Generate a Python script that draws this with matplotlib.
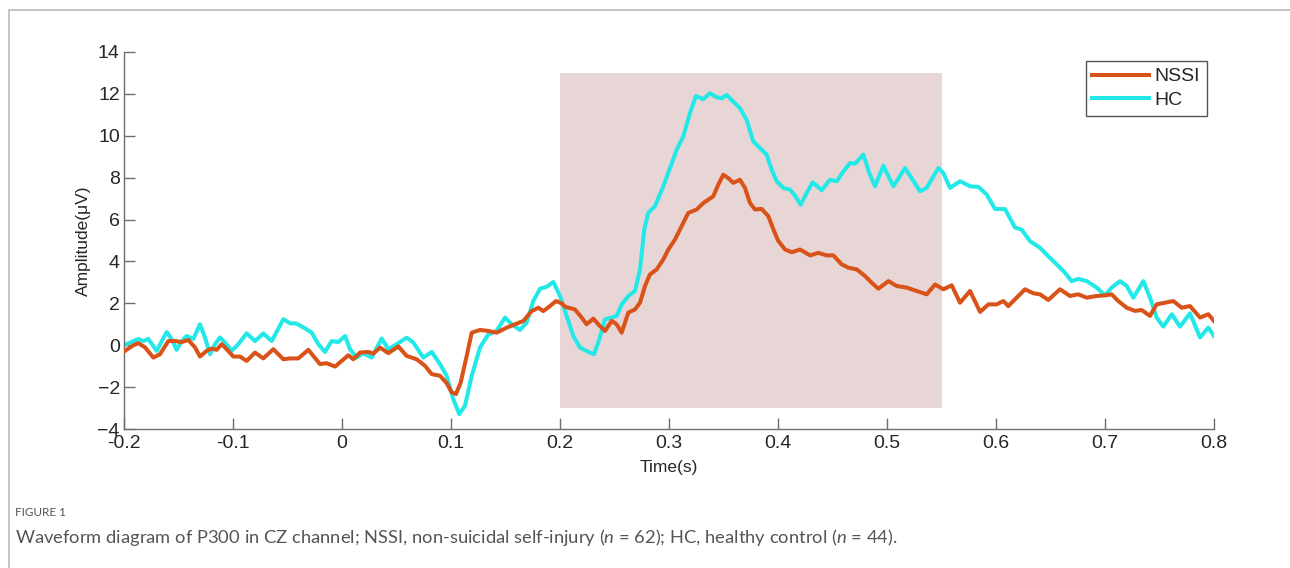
import matplotlib.pyplot as plt
from matplotlib.lines import Line2D

plt.rcParams['font.family'] = ['Liberation Sans', 'DejaVu Sans']
plt.rcParams['mathtext.fontset'] = 'custom'
plt.rcParams['mathtext.it'] = 'Lato:italic'
plt.rcParams['mathtext.rm'] = 'Lato'

# P300 waveform at CZ (time in s, amplitude in uV)
nssi_t = [-0.2, -0.1914, -0.1869, -0.1807, -0.1731, -0.1670, -0.1593, -0.1532, -0.1471, -0.1410,
          -0.1349, -0.1303, -0.1242, -0.1196, -0.1150, -0.1104, -0.1058, -0.0997, -0.0936, -0.0875,
          -0.0798, -0.0722, -0.0630, -0.0538, -0.0477, -0.0401, -0.0309, -0.0202, -0.0141, -0.0064,
          -0.0003, 0.0058, 0.0104, 0.0165, 0.0242, 0.0288, 0.0349, 0.0425, 0.0517, 0.0593,
          0.0685, 0.0761, 0.0823, 0.0899, 0.0960, 0.1006, 0.1046, 0.1089, 0.1144, 0.1190,
          0.1266, 0.1343, 0.1419, 0.1511, 0.1587, 0.1664, 0.1740, 0.1801, 0.1847, 0.1908,
          0.1963, 0.2015, 0.2046, 0.2137, 0.2199, 0.2244, 0.2306, 0.2351, 0.2413, 0.2474,
          0.2520, 0.2566, 0.2627, 0.2688, 0.2734, 0.2780, 0.2825, 0.2887, 0.2948, 0.2994,
          0.3055, 0.3116, 0.3177, 0.3254, 0.3315, 0.3361, 0.3406, 0.3452, 0.3498, 0.3544,
          0.3590, 0.3651, 0.3697, 0.3743, 0.3789, 0.3850, 0.3911, 0.3960, 0.4000, 0.4065,
          0.4126, 0.4202, 0.4294, 0.4370, 0.4447, 0.4508, 0.4584, 0.4646, 0.4722, 0.4799,
          0.4860, 0.4921, 0.5013, 0.5089, 0.5181, 0.5273, 0.5364, 0.5441, 0.5517, 0.5594,
          0.5670, 0.5762, 0.5854, 0.5930, 0.6006, 0.6067, 0.6113, 0.6190, 0.6266, 0.6343,
          0.6404, 0.6480, 0.6587, 0.6679, 0.6755, 0.6832, 0.6924, 0.7000, 0.7061, 0.7122,
          0.7199, 0.7275, 0.7336, 0.7413, 0.7474, 0.7550, 0.7627, 0.7703, 0.7780, 0.7872,
          0.7948, 0.8]
nssi_v = [-0.3, 0.0, 0.1, -0.1, -0.59, -0.43, 0.2, 0.2, 0.15, 0.25,
          -0.1, -0.54, -0.27, -0.16, -0.22, 0.05, -0.19, -0.54, -0.54, -0.75,
          -0.35, -0.63, -0.19, -0.67, -0.63, -0.63, -0.22, -0.9, -0.86, -1.02,
          -0.75, -0.48, -0.67, -0.35, -0.32, -0.4, -0.11, -0.38, -0.06, -0.51,
          -0.67, -0.98, -1.38, -1.46, -1.81, -2.25, -2.33, -1.78, -0.51, 0.60,
          0.73, 0.68, 0.60, 0.84, 1.0, 1.16, 1.63, 1.79, 1.63, 1.87,
          2.11, 2.0, 1.84, 1.71, 1.32, 1.0, 1.27, 1.0, 0.68, 1.16,
          1.0, 0.6, 1.56, 1.71, 2.03, 2.83, 3.38, 3.62, 4.1, 4.57,
          5.05, 5.68, 6.32, 6.48, 6.79, 6.95, 7.11, 7.67, 8.14, 7.98,
          7.75, 7.90, 7.51, 6.79, 6.48, 6.51, 6.16, 5.5, 5.0, 4.57,
          4.44, 4.57, 4.29, 4.41, 4.29, 4.29, 3.86, 3.7, 3.62, 3.3,
          2.98, 2.7, 3.06, 2.83, 2.75, 2.59, 2.43, 2.9, 2.67, 2.86,
          2.03, 2.59, 1.59, 1.95, 1.95, 2.11, 1.87, 2.27, 2.67, 2.48,
          2.43, 2.16, 2.67, 2.35, 2.43, 2.27, 2.35, 2.38, 2.43, 2.11,
          1.79, 1.64, 1.68, 1.4, 1.95, 2.03, 2.11, 1.79, 1.87, 1.32,
          1.48, 1.16]

hc_t = [-0.2, -0.1914, -0.1869, -0.1823, -0.1777, -0.1700, -0.1609, -0.1563, -0.1517, -0.1471,
        -0.1425, -0.1364, -0.1303, -0.1257, -0.1211, -0.1165, -0.1119, -0.1073, -0.1012, -0.0951,
        -0.0875, -0.0798, -0.0722, -0.0645, -0.0538, -0.0477, -0.0416, -0.0324, -0.0278, -0.0217,
        -0.0156, -0.0095, -0.0034, 0.0028, 0.0073, 0.0134, 0.0196, 0.0272, 0.0364, 0.0425,
        0.0502, 0.0593, 0.0654, 0.0746, 0.0823, 0.0899, 0.0960, 0.1021, 0.1076, 0.1128,
        0.1190, 0.1266, 0.1343, 0.1419, 0.1495, 0.1557, 0.1633, 0.1694, 0.1755, 0.1817,
        0.1878, 0.1939, 0.2000, 0.2061, 0.2122, 0.2183, 0.2260, 0.2312, 0.2361, 0.2413,
        0.2474, 0.2520, 0.2566, 0.2627, 0.2688, 0.2734, 0.2773, 0.2810, 0.2871, 0.2948,
        0.3009, 0.3070, 0.3131, 0.3192, 0.3247, 0.3315, 0.3376, 0.3437, 0.3483, 0.3529,
        0.3590, 0.3651, 0.3712, 0.3773, 0.3835, 0.3896, 0.3942, 0.3988, 0.4049, 0.4110,
        0.4156, 0.4208, 0.4263, 0.4318, 0.4401, 0.4477, 0.4539, 0.4600, 0.4661, 0.4707,
        0.4783, 0.4838, 0.4890, 0.4967, 0.5058, 0.5166, 0.5303, 0.5364, 0.5471, 0.5517,
        0.5578, 0.5670, 0.5762, 0.5838, 0.5915, 0.5991, 0.6037, 0.6083, 0.6174, 0.6235,
        0.6312, 0.6404, 0.6480, 0.6557, 0.6633, 0.6694, 0.6755, 0.6832, 0.6924, 0.7000,
        0.7061, 0.7138, 0.7199, 0.7260, 0.7352, 0.7413, 0.7474, 0.7535, 0.7612, 0.7688,
        0.7780, 0.7872, 0.7948, 0.8]
hc_v = [0.0, 0.2, 0.3, 0.2, 0.3, -0.27, 0.63, 0.3, -0.22, 0.2,
        0.44, 0.3, 1.0, 0.37, -0.43, 0.05, 0.37, 0.13, -0.27, 0.05,
        0.57, 0.2, 0.56, 0.2, 1.24, 1.05, 1.03, 0.76, 0.6, 0.05,
        -0.32, 0.2, 0.15, 0.44, -0.19, -0.59, -0.38, -0.59, 0.32, -0.19,
        0.05, 0.36, 0.13, -0.59, -0.32, -0.9, -1.46, -2.57, -3.29, -2.89,
        -1.46, -0.11, 0.52, 0.68, 1.32, 1.0, 0.73, 1.08, 2.11, 2.7,
        2.79, 3.02, 2.35, 1.4, 0.44, -0.11, -0.32, -0.43, 0.29, 1.24,
        1.32, 1.4, 1.95, 2.35, 2.59, 3.62, 5.52, 6.32, 6.64, 7.59,
        8.46, 9.33, 9.97, 11.08, 11.9, 11.75, 12.03, 11.84, 11.79, 11.95,
        11.63, 11.32, 10.76, 9.73, 9.41, 9.1, 8.38, 7.83, 7.51, 7.43,
        7.14, 6.71, 7.27, 7.78, 7.40, 7.9, 7.83, 8.3, 8.7, 8.67,
        9.1, 8.22, 7.59, 8.57, 7.59, 8.46, 7.35, 7.51, 8.46, 8.22,
        7.51, 7.83, 7.59, 7.56, 7.19, 6.51, 6.5, 6.5, 5.62, 5.52,
        4.97, 4.65, 4.25, 3.86, 3.46, 3.06, 3.17, 3.06, 2.75, 2.38,
        2.75, 3.06, 2.83, 2.27, 3.06, 2.27, 1.32, 0.89, 1.48, 0.89,
        1.52, 0.37, 0.84, 0.44]

# P300 analysis window
window_t = [0.2, 0.55]
window_lo = -3
window_hi = 13

x_ticks = [-0.2, -0.1, 0, 0.1, 0.2, 0.3, 0.4, 0.5, 0.6, 0.7, 0.8]
x_labels = ['-0.2', '-0.1', '0', '0.1', '0.2', '0.3', '0.4', '0.5', '0.6', '0.7', '0.8']
y_ticks = [-4, -2, 0, 2, 4, 6, 8, 10, 12, 14]

fig = plt.figure(figsize=(12.9, 5.68), dpi=100)
ax = fig.add_axes([124 / 1290, 139 / 568, 1090 / 1290, 377 / 568])

ax.fill_between(window_t, window_lo, window_hi, color='#E8D6D6', lw=0, zorder=0)
ax.plot(nssi_t, nssi_v, color='#D95319', lw=2.9, label='NSSI', zorder=3)
ax.plot(hc_t, hc_v, color='#22E8E8', lw=2.9, label='HC', zorder=2)

ax.set_xlim(-0.2, 0.8)
ax.set_ylim(-4, 14)
ax.set_xticks(x_ticks)
ax.set_xticklabels(x_labels)
ax.set_yticks(y_ticks)

for s in ['top', 'right']:
    ax.spines[s].set_visible(False)
for s in ['left', 'bottom']:
    ax.spines[s].set_color('#6E6E6E')
    ax.spines[s].set_linewidth(1.0)
ax.tick_params(direction='in', length=8, width=1.0, color='#6E6E6E',
               labelsize=14, labelcolor='#262626')
ax.tick_params(axis='x', pad=4)
ax.tick_params(axis='y', pad=3)

ax.set_xlabel('Time(s)', fontsize=12.5, color='#262626', labelpad=6)
ax.set_ylabel('Amplitude(μV)', fontsize=12.5, color='#262626', labelpad=5)

leg = ax.legend(loc='upper right', bbox_to_anchor=(1207 / 1290, 1 - 61 / 568),
                bbox_transform=fig.transFigure, borderaxespad=0, fontsize=14,
                handlelength=2.9, handletextpad=0.3, labelspacing=0.3,
                borderpad=0.35, fancybox=False, framealpha=1)
leg.get_frame().set_edgecolor('#555555')
leg.get_frame().set_linewidth(1.0)
for t in leg.get_texts():
    t.set_color('#262626')

# frame of the figure panel
fig.add_artist(Line2D([9 / 1290, 9 / 1290, 1], [0, 1 - 10 / 568, 1 - 10 / 568],
                      transform=fig.transFigure, color='#BBBBBB', lw=1.2))

fig.text(15 / 1290, 1 - 513 / 568, 'FIGURE 1', fontsize=8.5, color='#555555',
         family='Lato', va='center')
fig.text(15 / 1290, 1 - 538 / 568,
         'Waveform diagram of P300 in CZ channel; NSSI, non-suicidal self-injury ($n$ = 62); '
         'HC, healthy control ($n$ = 44).',
         fontsize=13.2, color='#555555', family='Lato', va='center')

plt.savefig('out.png', dpi=100)
